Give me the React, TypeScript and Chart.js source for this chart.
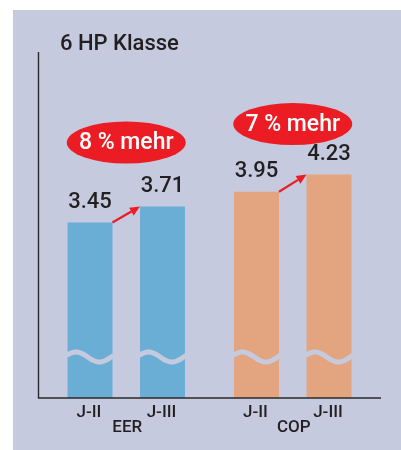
import React, { useEffect, useRef } from "react";
import { Chart, registerables } from "chart.js";

Chart.register(...registerables);

const groups = ["EER", "COP"];
const seriesNames = ["J-II", "J-III"];
const jIIValues = [3.45, 3.95];
const jIIIValues = [3.71, 4.23];
const badgeTexts = ["8 % mehr", "7 % mehr"];
const badgeLevels = [4.75, 5.05];
const title = "6 HP Klasse";

const BG = "#c6cadf";
const BLUE = "#6aaed6";
const ORANGE = "#e2a57f";
const RED = "#ec1c24";
const TEXT = "#231f20";
const FONT = "Roboto, 'Noto Sans', sans-serif";

const decorPlugin = {
  id: "decor",
  beforeDraw(chart: any) {
    const ctx = chart.ctx;
    ctx.save();
    ctx.fillStyle = "#ffffff";
    ctx.fillRect(0, 0, chart.width, chart.height);
    ctx.fillStyle = BG;
    ctx.fillRect(13, 10, chart.width - 13, chart.height - 10);
    // title
    ctx.fillStyle = TEXT;
    ctx.font = `500 22px ${FONT}`;
    ctx.textAlign = "left";
    ctx.textBaseline = "middle";
    ctx.fillText(title, 60, 44);
    ctx.restore();
  },
  afterDatasetsDraw(chart: any) {
    const ctx = chart.ctx;
    const area = chart.chartArea;
    const xScale = chart.scales.x;
    const yScale = chart.scales.y;
    ctx.save();
    const metas = [chart.getDatasetMeta(0), chart.getDatasetMeta(1)];
    // wave breaks
    metas.forEach((meta: any) => {
      meta.data.forEach((bar: any) => {
        const w = bar.width;
        const x0 = bar.x - w / 2;
        const yc = area.bottom - 41;
        ctx.beginPath();
        for (let i = 0; i <= 40; i++) {
          const t = i / 40;
          const x = x0 - 1 + t * (w + 2);
          const y = yc - 5 * Math.cos(2 * Math.PI * (t - 0.2));
          if (i === 0) ctx.moveTo(x, y);
          else ctx.lineTo(x, y);
        }
        ctx.strokeStyle = BG;
        ctx.lineWidth = 5;
        ctx.stroke();
      });
    });
    // axes
    ctx.strokeStyle = "#2a2a2a";
    ctx.lineWidth = 1.4;
    ctx.beginPath();
    ctx.moveTo(area.left - 4.5, area.top);
    ctx.lineTo(area.left - 4.5, area.bottom);
    ctx.lineTo(area.right + 5, area.bottom);
    ctx.stroke();
    // value labels
    ctx.fillStyle = TEXT;
    ctx.textAlign = "center";
    ctx.textBaseline = "middle";
    metas.forEach((meta: any, di: number) => {
      const vals = di === 0 ? jIIValues : jIIIValues;
      meta.data.forEach((bar: any, i: number) => {
        ctx.font = `500 22px ${FONT}`;
        ctx.fillText(vals[i].toFixed(2), bar.x, bar.y - 20);
        ctx.font = `500 17px ${FONT}`;
        ctx.fillText(seriesNames[di], bar.x - 1, area.bottom + 15);
      });
    });
    // group labels
    groups.forEach((g, i) => {
      ctx.font = `500 17px ${FONT}`;
      ctx.fillText(g, xScale.getPixelForValue(i) + 1, area.bottom + 30);
    });
    // arrows
    metas[0].data.forEach((b1: any, i: number) => {
      const b2 = metas[1].data[i];
      const xs = b1.x + b1.width / 2;
      const ys = b1.y;
      const xe = b2.x - b2.width / 2;
      const ye = b2.y;
      const ang = Math.atan2(ye - ys, xe - xs);
      const hl = 10;
      const hw = 4.5;
      const bx = xe - hl * Math.cos(ang);
      const by = ye - hl * Math.sin(ang);
      ctx.strokeStyle = RED;
      ctx.lineWidth = 2.2;
      ctx.beginPath();
      ctx.moveTo(xs, ys);
      ctx.lineTo(bx, by);
      ctx.stroke();
      ctx.fillStyle = RED;
      ctx.beginPath();
      ctx.moveTo(xe, ye);
      ctx.lineTo(bx - hw * Math.sin(ang), by + hw * Math.cos(ang));
      ctx.lineTo(bx + hw * Math.sin(ang), by - hw * Math.cos(ang));
      ctx.closePath();
      ctx.fill();
      // badge
      const cx = (b1.x + b2.x) / 2;
      const cy = yScale.getPixelForValue(badgeLevels[i]);
      ctx.fillStyle = RED;
      ctx.beginPath();
      ctx.ellipse(cx, cy, 59.5, 21, 0, 0, Math.PI * 2);
      ctx.fill();
      ctx.fillStyle = "#ffffff";
      ctx.font = `500 23px ${FONT}`;
      ctx.fillText(badgeTexts[i], cx, cy + 1);
    });
    ctx.restore();
  },
};

export default function App() {
  const ref = useRef<HTMLCanvasElement>(null);
  useEffect(() => {
    if (!ref.current) return;
    const chart = new Chart(ref.current, {
      type: "bar",
      data: {
        labels: groups,
        datasets: [
          {
            label: seriesNames[0],
            data: jIIValues,
            backgroundColor: [BLUE, ORANGE],
            categoryPercentage: 0.871,
            barPercentage: 0.62,
          },
          {
            label: seriesNames[1],
            data: jIIIValues,
            backgroundColor: [BLUE, ORANGE],
            categoryPercentage: 0.871,
            barPercentage: 0.62,
          },
        ],
      },
      options: {
        animation: false,
        responsive: false,
        layout: { padding: { left: 43, right: 25, top: 52, bottom: 52 } },
        plugins: { legend: { display: false }, tooltip: { enabled: false } },
        scales: {
          x: { display: false },
          y: { display: false, min: 0.6, max: 6.22 },
        },
      },
      plugins: [decorPlugin],
    });
    return () => chart.destroy();
  }, []);
  return (
    <div style={{ position: "fixed", left: 0, top: 0, width: 401, height: 450 }}>
      <canvas ref={ref} width={401} height={450} />
    </div>
  );
}
